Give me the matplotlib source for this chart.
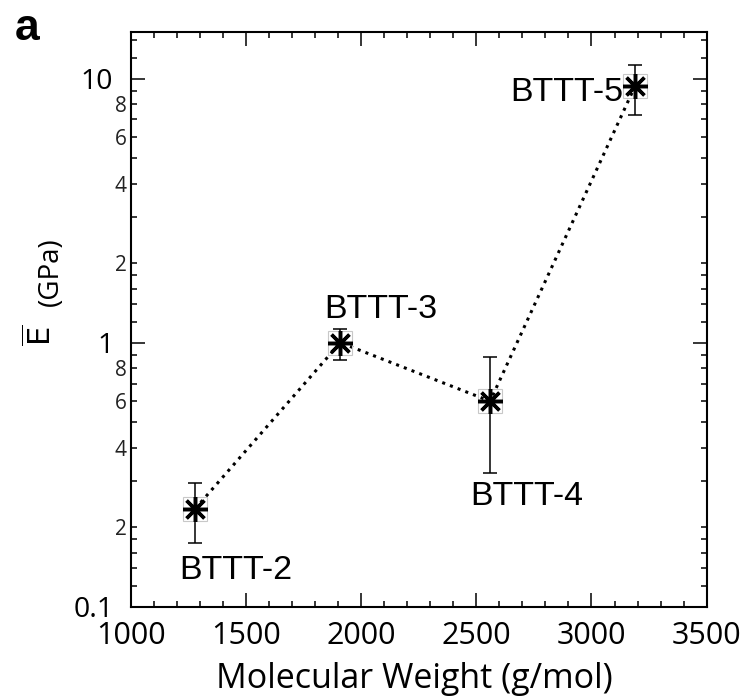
import matplotlib
matplotlib.use('Agg')
import matplotlib.pyplot as plt
from matplotlib.ticker import FixedLocator, FuncFormatter

# Data
names = ['BTTT-2', 'BTTT-3', 'BTTT-4', 'BTTT-5']
mw = [1280, 1910, 2560, 3190]
modulus = [0.235, 1.0, 0.60, 9.4]
err_low = [0.061, 0.14, 0.28, 2.1]
err_high = [0.059, 0.13, 0.285, 1.9]

# label offsets (pixels) and alignment
label_off = [(41, -70), (40, 25), (37, -104), (-12, -15)]
label_ha = ['center', 'center', 'center', 'right']

xticks = [1000, 1500, 2000, 2500, 3000, 3500]
yticks_major = [0.1, 1, 10]
yticks_minor = [0.12, 0.14, 0.16, 0.18, 0.2, 0.3, 0.4, 0.5, 0.6, 0.7, 0.8, 0.9,
                1.2, 1.4, 1.6, 1.8, 2, 3, 4, 5, 6, 7, 8, 9, 12, 14]
minor_labelled = [0.2, 0.4, 0.6, 0.8, 2, 4, 6, 8]

tick_font = 'Open Sans'
ann_font = 'Liberation Sans'


def minor_label(v, pos):
    # only the even minor ticks carry a label, written as the leading digit
    if not any(abs(v - m) < 1e-9 for m in minor_labelled):
        return ''
    return str(int(round(v * 10))) if v < 1 else str(int(round(v)))


fig = plt.figure(figsize=(7.51, 7.00), dpi=100)
ax = fig.add_axes([0.1740, 0.1333, 0.7670, 0.8209])

ax.errorbar(mw, modulus, yerr=[err_low, err_high], fmt='none', ecolor='black',
            elinewidth=1.1, capsize=5.3, capthick=1.1, zorder=2)
ax.plot(mw, modulus, color='black', lw=2.2, linestyle=(0, (1, 1.7)), zorder=3)
ax.plot(mw, modulus, linestyle='none', marker='s', markersize=17,
        mfc='none', mec='#c8c8c8', mew=0.8, zorder=3)
ax.plot(mw, modulus, linestyle='none', marker=(8, 2, 0), markersize=18,
        mec='black', mew=2.5, zorder=4)

for name, x, y, off, ha in zip(names, mw, modulus, label_off, label_ha):
    ax.annotate(name, (x, y), xytext=off, textcoords='offset pixels',
                ha=ha, va='baseline', fontsize=24.5, family=ann_font)

ax.set_yscale('log')
ax.set_xlim(1000, 3500)
ax.set_ylim(0.1, 15)

ax.set_xticks(xticks)
ax.xaxis.set_minor_locator(FixedLocator(range(1100, 3500, 100)))
ax.yaxis.set_major_locator(FixedLocator(yticks_major))
ax.yaxis.set_minor_locator(FixedLocator(yticks_minor))
ax.yaxis.set_major_formatter(FuncFormatter(lambda v, p: '%g' % v))
ax.yaxis.set_minor_formatter(FuncFormatter(minor_label))

for s in ax.spines.values():
    s.set_linewidth(1.5)

ax.tick_params(which='both', direction='in', top=True, right=True, width=1.1)
ax.tick_params(which='major', length=10)
ax.tick_params(which='minor', length=4.5)
ax.tick_params(axis='x', which='major', labelsize=22, pad=10)
ax.tick_params(axis='y', which='major', labelsize=20.5, pad=12.5)
ax.tick_params(axis='y', which='minor', labelsize=15, pad=3, labelcolor='#222222')
for lab in ax.get_xticklabels() + ax.get_yticklabels() + ax.get_yticklabels(minor=True):
    lab.set_family(tick_font)

ax.set_xlabel('Molecular Weight (g/mol)', fontsize=24.5, family=tick_font, va='baseline')
ax.xaxis.set_label_coords(0.492, -0.1415)

# y label: E with overline and (GPa)
fig.text(41 / 751, 1 - 335 / 700, r'$\overline{\mathrm{E}}$', rotation=90,
         ha='center', va='center', fontsize=22)
fig.text(51 / 751, 1 - 272 / 700, '(GPa)', rotation=90, ha='center', va='center',
         fontsize=20, family=tick_font)

fig.text(15 / 751, 1 - 40 / 700, 'a', fontsize=32, fontweight='bold',
         family=ann_font, ha='left', va='baseline')

plt.savefig('out.png', dpi=100)
